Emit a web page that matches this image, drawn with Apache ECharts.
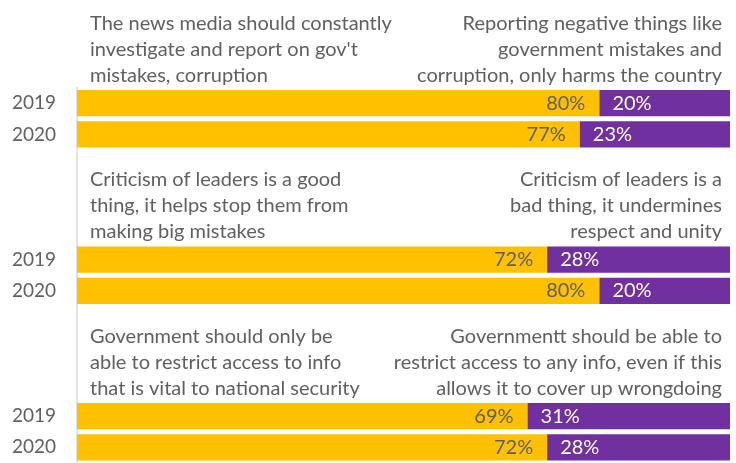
<!DOCTYPE html>
<html>
<head>
<meta charset="utf-8">
<script src="https://cdn.jsdelivr.net/npm/echarts@6/dist/echarts.min.js"></script>
<style>
html,body{margin:0;padding:0;background:#fff;}
#chart{width:736px;height:463px;}
</style>
</head>
<body>
<div id="chart"></div>
<script>
// Category slots (blank slots leave room for the statement captions)
var categories = ['2019', '2020', '', '', '', '2019', '2020', '', '', '', '2019', '2020'];
// Share agreeing with the left-hand statement (yellow)
var leftValues = [80, 77, null, null, null, 72, 80, null, null, null, 69, 72];
// Share agreeing with the right-hand statement (purple)
var rightValues = [20, 23, null, null, null, 28, 20, null, null, null, 31, 28];
// Statement captions, one per group (first slot index of each group)
var groupStartIndex = [0, 5, 10];
var leftCaptions = [
  'The news media should constantly\ninvestigate and report on gov\'t\nmistakes, corruption',
  'Criticism of leaders is a good\nthing, it helps stop them from\nmaking big mistakes',
  'Government should only be\nable to restrict access to info\nthat is vital to national security'
];
var rightCaptions = [
  'Reporting negative things like\ngovernment mistakes and\ncorruption, only harms the country',
  'Criticism of leaders is a\nbad thing, it undermines\nrespect and unity',
  'Governmentt should be able to\nrestrict access to any info, even if this\nallows it to cover up wrongdoing'
];

var FONT = 'Lato';
var TXT = '#5f5f5f';
var GRID_TOP = 87.5, GRID_BOTTOM = -5;
var chart = echarts.init(document.getElementById('chart'), null, {renderer: 'canvas'});

var option = {
  animation: false,
  backgroundColor: '#ffffff',
  grid: {left: 77, right: 6, top: GRID_TOP, bottom: GRID_BOTTOM, containLabel: false},
  xAxis: {
    type: 'value', min: 0, max: 100, show: false
  },
  yAxis: {
    type: 'category',
    inverse: true,
    data: categories,
    axisLine: {show: true, lineStyle: {color: '#d9d9d9', width: 1.5}},
    axisTick: {show: false},
    axisLabel: {color: TXT, fontFamily: FONT, fontSize: 19, margin: 21}
  },
  series: [
    {
      name: 'left', type: 'bar', stack: 'total', data: leftValues,
      barCategoryGap: '16%',
      itemStyle: {color: '#FFC000'},
      label: {show: true, position: 'insideRight', distance: 14,
        formatter: '{c}%', color: TXT, fontFamily: FONT, fontSize: 20}
    },
    {
      name: 'right', type: 'bar', stack: 'total', data: rightValues,
      barCategoryGap: '16%',
      itemStyle: {color: '#7030A0'},
      label: {show: true, position: 'insideLeft', distance: 13,
        formatter: '{c}%', color: '#ffffff', fontFamily: FONT, fontSize: 20}
    }
  ]
};
chart.setOption(option);

// Place captions just above the first bar of each group
var slotH = (463 - GRID_BOTTOM - GRID_TOP) / categories.length;
var graphics = [];
groupStartIndex.forEach(function (idx, g) {
  var center = chart.convertToPixel({yAxisIndex: 0}, idx);
  var barTop = center - slotH * 0.84 / 2;
  var y = barTop - 1.5;
  graphics.push({
    type: 'text', x: 90, y: y,
    style: {text: leftCaptions[g], fill: TXT, fontFamily: FONT, fontSize: 20,
      lineHeight: 26, align: 'left', verticalAlign: 'bottom'}
  });
  graphics.push({
    type: 'text', x: 722, y: y,
    style: {text: rightCaptions[g], fill: TXT, fontFamily: FONT, fontSize: 20,
      lineHeight: 26, align: 'right', verticalAlign: 'bottom'}
  });
});
chart.setOption({graphic: graphics});
</script>
</body>
</html>
